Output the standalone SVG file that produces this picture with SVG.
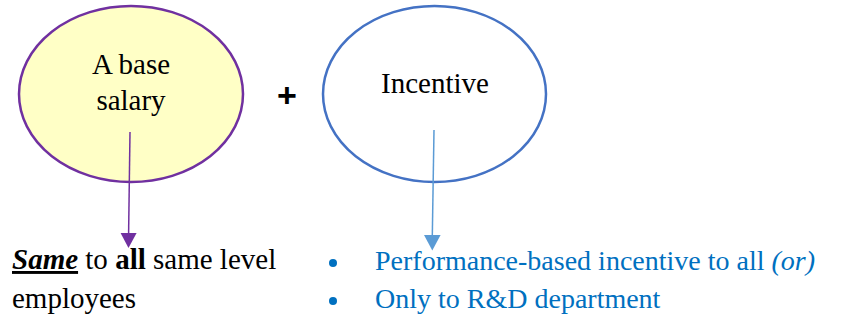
<svg xmlns="http://www.w3.org/2000/svg" width="843" height="320" viewBox="0 0 843 320">
<rect width="843" height="320" fill="#fff"/>
<g id="base">
<ellipse cx="131" cy="94" rx="112" ry="88" fill="#FFFFC6" stroke="#7030A0" stroke-width="2.5"/>
<text x="131" y="74" text-anchor="middle" font-family="Liberation Serif,serif" font-size="29" fill="#000">A base</text>
<text x="131" y="110" text-anchor="middle" font-family="Liberation Serif,serif" font-size="29" fill="#000">salary</text>
</g>
<g id="plus">
<text x="287" y="107" text-anchor="middle" font-family="Liberation Sans,sans-serif" font-size="34" font-weight="bold" fill="#000">+</text>
</g>
<g id="incentive">
<ellipse cx="434.5" cy="94" rx="111.5" ry="88" fill="#fff" stroke="#4472C4" stroke-width="2.5"/>
<text x="435" y="93" text-anchor="middle" font-family="Liberation Serif,serif" font-size="29" fill="#000">Incentive</text>
</g>
<g id="connectors">
<line x1="130" y1="132" x2="128.6" y2="234" stroke="#7030A0" stroke-width="1.5"/>
<path d="M120.6,233 L136.6,233 L128.5,248 Z" fill="#7030A0"/>
<line x1="434" y1="130" x2="432.3" y2="236" stroke="#5B9BD5" stroke-width="1.5"/>
<path d="M424,235 L440.6,235 L432.3,250.5 Z" fill="#5B9BD5"/>
</g>
<g id="same">
<text x="12" y="269" font-family="Liberation Serif,serif" font-size="29" fill="#000"><tspan font-weight="bold" font-style="italic" text-decoration="underline">Same</tspan> to <tspan font-weight="bold">all</tspan> same level</text>
<text x="12" y="308" font-family="Liberation Serif,serif" font-size="29" fill="#000">employees</text>
</g>
<g id="list">
<circle cx="333" cy="263" r="4" fill="#0070C0"/>
<circle cx="333" cy="301" r="4" fill="#0070C0"/>
<text x="375" y="270" font-family="Liberation Serif,serif" font-size="28" fill="#0070C0">Performance-based incentive to all <tspan font-style="italic">(or)</tspan></text>
<text x="375" y="308" font-family="Liberation Serif,serif" font-size="28" fill="#0070C0">Only to R&amp;D department</text>
</g>
</svg>
